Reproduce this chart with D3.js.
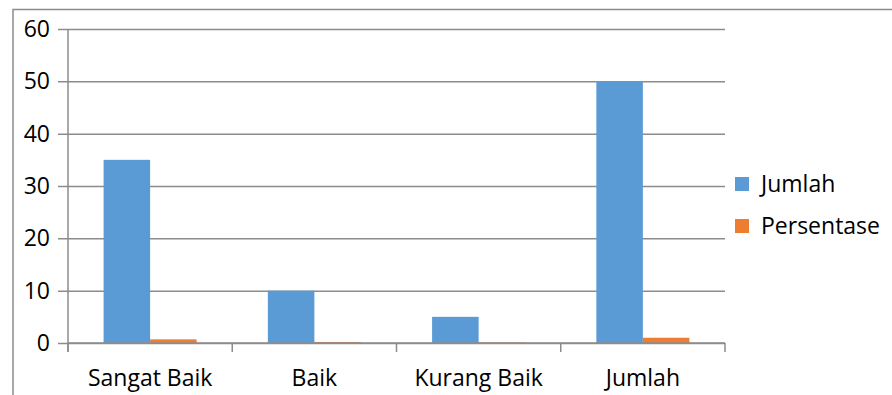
<!DOCTYPE html>
<html>
<head>
<meta charset="utf-8">
<script src="https://cdn.jsdelivr.net/npm/d3@7/dist/d3.min.js"></script>
<style>
  html, body { margin: 0; padding: 0; background: #fff; }
  svg { display: block; }
  text { font-family: "Open Sans", "Noto Sans", sans-serif; fill: #000; }
</style>
</head>
<body>
<svg id="chart" width="892" height="395"></svg>
<script>
// Categories and series
const categories = ["Sangat Baik", "Baik", "Kurang Baik", "Jumlah"];
const seriesNames = ["Jumlah", "Persentase"];
const jumlah = [35, 10, 5, 50];
const persentase = [0.7, 0.2, 0.1, 1.0];
const yTicks = [0, 10, 20, 30, 40, 50, 60];
const colors = ["#5B9BD5", "#ED7D31"];

const svg = d3.select("#chart");
const gridColor = "#8c8c8c";

// Outer chart-area border (top and left visible)
svg.append("path")
  .attr("d", "M13,395 L13,9.5 L892,9.5")
  .attr("fill", "none")
  .attr("stroke", gridColor)
  .attr("stroke-width", 1.5);

const plot = { left: 68, right: 725, top: 29, bottom: 343 };

const x = d3.scaleBand()
  .domain(categories)
  .range([plot.left, plot.right])
  .paddingInner(0)
  .paddingOuter(0);

const inner = d3.scaleBand()
  .domain(seriesNames)
  .range([0, x.bandwidth()])
  .paddingInner(0)
  .paddingOuter(0.765);

const y = d3.scaleLinear()
  .domain([0, 60])
  .range([plot.bottom, plot.top]);

// Horizontal gridlines with left tick marks
const yAxis = d3.axisLeft(y)
  .tickValues(yTicks)
  .tickSize(-(plot.right - plot.left))
  .tickSizeOuter(0)
  .tickPadding(8)
  .tickFormat(d3.format("d"));

const gy = svg.append("g")
  .attr("transform", `translate(${plot.left},0)`)
  .call(yAxis);
gy.select(".domain").remove();
gy.selectAll(".tick line")
  .attr("x1", -10)
  .attr("stroke", gridColor)
  .attr("stroke-width", 1.5);
gy.selectAll(".tick text")
  .attr("x", -18)
  .attr("font-size", 23)
  .style("font-family", "'Open Sans', sans-serif");

// Y axis line
svg.append("line")
  .attr("x1", plot.left).attr("x2", plot.left)
  .attr("y1", plot.top).attr("y2", plot.bottom + 9)
  .attr("stroke", gridColor)
  .attr("stroke-width", 1.5);

// Bars
const groups = svg.append("g")
  .selectAll("g")
  .data(categories)
  .join("g")
  .attr("transform", d => `translate(${x(d)},0)`);

groups.selectAll("rect")
  .data((d, i) => [
    { series: seriesNames[0], value: jumlah[i], color: colors[0] },
    { series: seriesNames[1], value: persentase[i], color: colors[1] }
  ])
  .join("rect")
  .attr("x", d => inner(d.series))
  .attr("width", inner.bandwidth())
  .attr("y", d => y(d.value))
  .attr("height", d => y(0) - y(d.value))
  .attr("fill", d => d.color);

// X axis with category separator ticks
svg.append("line")
  .attr("x1", plot.left).attr("x2", plot.right)
  .attr("y1", plot.bottom).attr("y2", plot.bottom)
  .attr("stroke", gridColor)
  .attr("stroke-width", 1.5);

const sepTicks = categories.map(c => x(c)).concat([plot.right]);
svg.append("g")
  .selectAll("line")
  .data(sepTicks)
  .join("line")
  .attr("x1", d => d).attr("x2", d => d)
  .attr("y1", plot.bottom).attr("y2", plot.bottom + 9)
  .attr("stroke", gridColor)
  .attr("stroke-width", 1.5);

svg.append("g")
  .selectAll("text")
  .data(categories)
  .join("text")
  .attr("x", d => x(d) + x.bandwidth() / 2)
  .attr("y", 386)
  .attr("text-anchor", "middle")
  .attr("font-size", 23)
  .text(d => d);

// Legend
const legend = svg.append("g")
  .selectAll("g")
  .data(seriesNames)
  .join("g")
  .attr("transform", (d, i) => `translate(735,${177 + i * 42})`);

legend.append("rect")
  .attr("width", 14)
  .attr("height", 14)
  .attr("fill", (d, i) => colors[i]);

legend.append("text")
  .attr("x", 26)
  .attr("y", 15)
  .attr("font-size", 23)
  .text(d => d);
</script>
</body>
</html>
